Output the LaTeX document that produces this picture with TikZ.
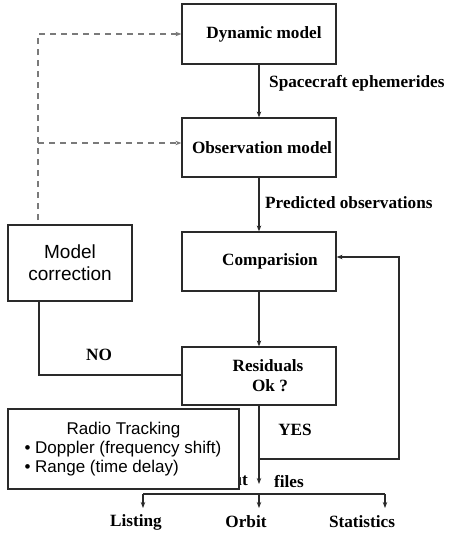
\documentclass[tikz,border=0pt]{standalone}
\usepackage{fontspec}
\setmainfont{Liberation Serif}
\newfontfamily\arialfont{Liberation Sans}
\usetikzlibrary{arrows.meta,calc}
\definecolor{ink}{HTML}{2A2A2A}
\definecolor{dashink}{HTML}{7A7A7A}
\begin{document}
\begin{tikzpicture}[x=1pt,y=-1pt,
  box/.style={draw=ink,line width=1.2pt,fill=white,inner sep=0pt,align=center,
    font=\fontsize{17.2}{20}\selectfont\bfseries},
  sbox/.style={draw=ink,line width=1.2pt,fill=white,inner sep=0pt,
    font=\arialfont\fontsize{17}{19}\selectfont},
  lbl/.style={inner sep=0pt,font=\fontsize{17.2}{20}\selectfont\bfseries,text=black},
  arr/.style={draw=ink,line width=1.2pt,-{Stealth[length=6pt,width=4.5pt]}},
  ln/.style={draw=ink,line width=1.2pt},
  dsh/.style={draw=dashink,line width=1.1pt,dash pattern=on 6pt off 5pt,
    -{Stealth[length=6pt,width=4.5pt]}}]
\useasboundingbox (0,0) rectangle (448,533);

% main chain of boxes
\node[box,minimum width=154,minimum height=60] (dyn) at (259,34) {\hspace*{10pt}Dynamic model};
\node[box,minimum width=154,minimum height=59] (obs) at (259,147.5) {\hspace*{6pt}Observation model};
\node[box,minimum width=154,minimum height=59] (cmp) at (259,261.5) {\hspace*{22pt}Comparision};
\node[box,minimum width=154,minimum height=58] (res) at (259,376) {\hspace*{18pt}Residuals\\\hspace*{22pt}Ok ?};
\node[sbox,minimum width=124,minimum height=76,align=center,
  font=\arialfont\fontsize{19}{22}\selectfont] (mc) at (70,263) {Model\\correction};

% labels on connectors
\node[lbl,anchor=west] (eph) at (269,83) {Spacecraft ephemerides};
\node[lbl,anchor=west] (pred) at (265,203) {Predicted observations};
\node[lbl] (no) at (99,355) {NO};
\node[lbl] (yes) at (295,430) {YES};
\node[lbl,anchor=east] (outw) at (248,482) {Output};
\node[lbl,anchor=west] (files) at (274,482) {files};

% output products
\node[lbl] (lst) at (136,522) {Listing};
\node[lbl] (orb) at (246,522) {Orbit};
\node[lbl] (sta) at (362,522) {Statistics};

% connector points
\coordinate (dtop) at (38,34);
\coordinate (dmid) at (38,143);
\coordinate (dbot) at (38,220);
\coordinate (nocorner) at (39,375);
\coordinate (outtip) at (259,484);
\coordinate (fb) at (259,459);
\coordinate (rt) at (399,257);
\coordinate (brL) at (143,494);
\coordinate (brM) at (259,494);
\coordinate (brR) at (385,494);
\coordinate (tipL) at (143,508);
\coordinate (tipM) at (259,508);
\coordinate (tipR) at (385,508);

% forward flow
\draw[arr] (dyn) -- (obs);
\draw[arr] (obs) -- (cmp);
\draw[arr] (cmp) -- (res);
\draw[arr] (res) -- (outtip);

% loop back when residuals are acceptable
\draw[arr] (fb) -| (rt) -- (cmp.east |- rt);

% rejected residuals go to the model correction
\draw[ln] (res.west |- nocorner) -- (nocorner) -- (nocorner |- mc.south);

% corrections fed back to the models
\draw[dsh] (dbot) -- (dtop) -- (dyn.west |- dtop);
\draw[dsh] (dmid) -- (obs.west |- dmid);

% distribution of output files
\draw[ln] (brL) -- (brR);
\draw[arr] (brL) -- (tipL);
\draw[arr] (brM) -- (tipM);
\draw[arr] (brR) -- (tipR);

% tracking data box on top
\node[sbox,minimum width=231,minimum height=80] (radio) at (123.5,449) {};
\node[inner sep=0pt,align=left,font=\arialfont\fontsize{17}{19}\selectfont] (radiotxt) at (radio.center)
  {\makebox[198pt][c]{Radio Tracking}\\\textbullet\ Doppler (frequency shift)\\\textbullet\ Range (time delay)};
\end{tikzpicture}
\end{document}
